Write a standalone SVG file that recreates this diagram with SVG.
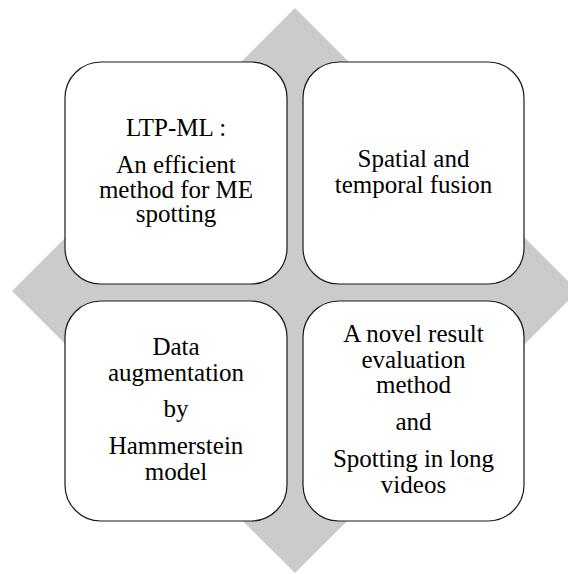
<svg xmlns="http://www.w3.org/2000/svg" width="568" height="574" viewBox="0 0 568 574">
<style>
.bg{fill:#cbcbcb;stroke:none}
.box{fill:#ffffff;stroke:#1a1a1a;stroke-width:1.2}
.t{font-family:'Times New Roman','Liberation Serif',Times,Tinos,'Noto Serif','DejaVu Serif',FreeSerif,serif;font-size:25px;fill:#000;text-anchor:middle}
</style>
<rect width="568" height="574" fill="#ffffff"/>
<polygon id="diamond" class="bg" points="295,8 578,291 295,573 12,291"/>
<g id="node-ltp">
<rect class="box" x="65" y="62" width="222" height="222" rx="36" ry="36"/>
<text class="t" x="176" y="136">LTP-ML :</text>
<text class="t" x="176" y="173">An efficient</text>
<text class="t" x="176" y="197.5">method for ME</text>
<text class="t" x="176" y="222">spotting</text>
</g>
<g id="node-fusion">
<rect class="box" x="303" y="62" width="221" height="222" rx="36" ry="36"/>
<text class="t" x="413.5" y="167">Spatial and</text>
<text class="t" x="413.5" y="193">temporal fusion</text>
</g>
<g id="node-augment">
<rect class="box" x="65" y="301" width="222" height="220" rx="36" ry="36"/>
<text class="t" x="176" y="355">Data</text>
<text class="t" x="176" y="380.5">augmentation</text>
<text class="t" x="176" y="417">by</text>
<text class="t" x="176" y="454">Hammerstein</text>
<text class="t" x="176" y="480">model</text>
</g>
<g id="node-eval">
<rect class="box" x="303" y="301" width="221" height="220" rx="36" ry="36"/>
<text class="t" x="413.5" y="342">A novel result</text>
<text class="t" x="413.5" y="367.5">evaluation</text>
<text class="t" x="413.5" y="393">method</text>
<text class="t" x="413.5" y="430">and</text>
<text class="t" x="413.5" y="467">Spotting in long</text>
<text class="t" x="413.5" y="492.5">videos</text>
</g>
<g id="connectors"></g>
</svg>
